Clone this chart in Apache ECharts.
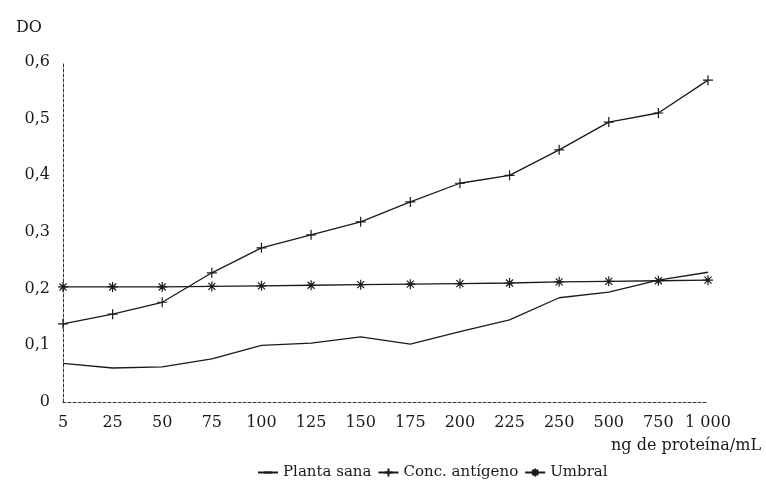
<!DOCTYPE html>
<html>
<head>
<meta charset="utf-8">
<script src="https://cdn.jsdelivr.net/npm/echarts@6/dist/echarts.min.js"></script>
<style>
  html, body { margin: 0; padding: 0; background: #fff; }
  #chart { width: 766px; height: 487px; }
</style>
</head>
<body>
<div id="chart"></div>
<script>
// ng de proteína/mL (categorías del eje x)
const concentraciones = ["5", "25", "50", "75", "100", "125", "150", "175", "200", "225", "250", "500", "750", "1 000"];
// DO
const plantaSana = [0.068, 0.06, 0.062, 0.076, 0.1, 0.104, 0.115, 0.102, 0.124, 0.145, 0.184, 0.194, 0.215, 0.229];
const concAntigeno = [0.138, 0.155, 0.176, 0.228, 0.272, 0.295, 0.318, 0.353, 0.386, 0.4, 0.445, 0.494, 0.51, 0.568];
const umbral = [0.203, 0.203, 0.203, 0.204, 0.205, 0.206, 0.207, 0.208, 0.209, 0.21, 0.212, 0.213, 0.214, 0.215];

const FONT = "DejaVu Serif";
const INK = "#1a1a1a";
// plain dash for the legend of "Planta sana" (the moveTo corners keep a square box)
const DASH = "path://M0,0M0,5L10,5M10,10";
const PLUS = "path://M0,5L10,5M5,0L5,10";
const STAR = "path://M0,5L10,5M5,0L5,10M1.5,1.5L8.5,8.5M8.5,1.5L1.5,8.5";

const chart = echarts.init(document.getElementById("chart"));

chart.setOption({
  animation: false,
  textStyle: { fontFamily: FONT, color: INK },
  title: {
    text: "DO",
    left: 11, top: 15,
    textStyle: { fontFamily: FONT, fontSize: 16, fontWeight: "normal", color: INK },
  },
  graphic: [{
    type: "text",
    right: 5, top: 438,
    style: { text: "ng de proteína/mL", fontFamily: FONT, fontSize: 16, fill: INK },
  }],
  legend: {
    top: 460,
    left: 252,
    itemWidth: 20,
    itemHeight: 10,
    itemGap: 6,
    textStyle: { fontFamily: FONT, fontSize: 15, color: INK },
    data: ["Planta sana", "Conc. antígeno", "Umbral"],
  },
  grid: { left: 63, right: 58, top: 62, bottom: 85 },
  xAxis: {
    type: "category",
    data: concentraciones,
    boundaryGap: false,
    axisLine: { lineStyle: { color: "#333", width: 1, type: [3, 2] } },
    axisTick: { show: false },
    axisLabel: { fontFamily: FONT, fontSize: 16, color: INK, margin: 13, interval: 0 },
  },
  yAxis: {
    type: "value",
    min: 0, max: 0.6, interval: 0.1,
    splitLine: { show: false },
    axisLine: { show: true, lineStyle: { color: "#333", width: 1, type: [3, 2] } },
    axisTick: { show: false },
    axisLabel: {
      fontFamily: FONT, fontSize: 16, color: INK, margin: 13,
      formatter: (v) => v === 0 ? "0" : v.toFixed(1).replace(".", ","),
    },
  },
  series: [
    {
      name: "Planta sana", type: "line", data: plantaSana,
      symbol: DASH, showSymbol: false,
      lineStyle: { color: INK, width: 1.3 },
      itemStyle: { color: INK, borderColor: INK, borderWidth: 1.2 },
    },
    {
      name: "Conc. antígeno", type: "line", data: concAntigeno,
      symbol: PLUS, symbolSize: 10,
      lineStyle: { color: INK, width: 1.3 },
      itemStyle: { color: INK, borderColor: INK, borderWidth: 1.2 },
    },
    {
      name: "Umbral", type: "line", data: umbral,
      symbol: STAR, symbolSize: 10,
      lineStyle: { color: INK, width: 1.3 },
      itemStyle: { color: INK, borderColor: INK, borderWidth: 1.2 },
    },
  ],
});
</script>
</body>
</html>
